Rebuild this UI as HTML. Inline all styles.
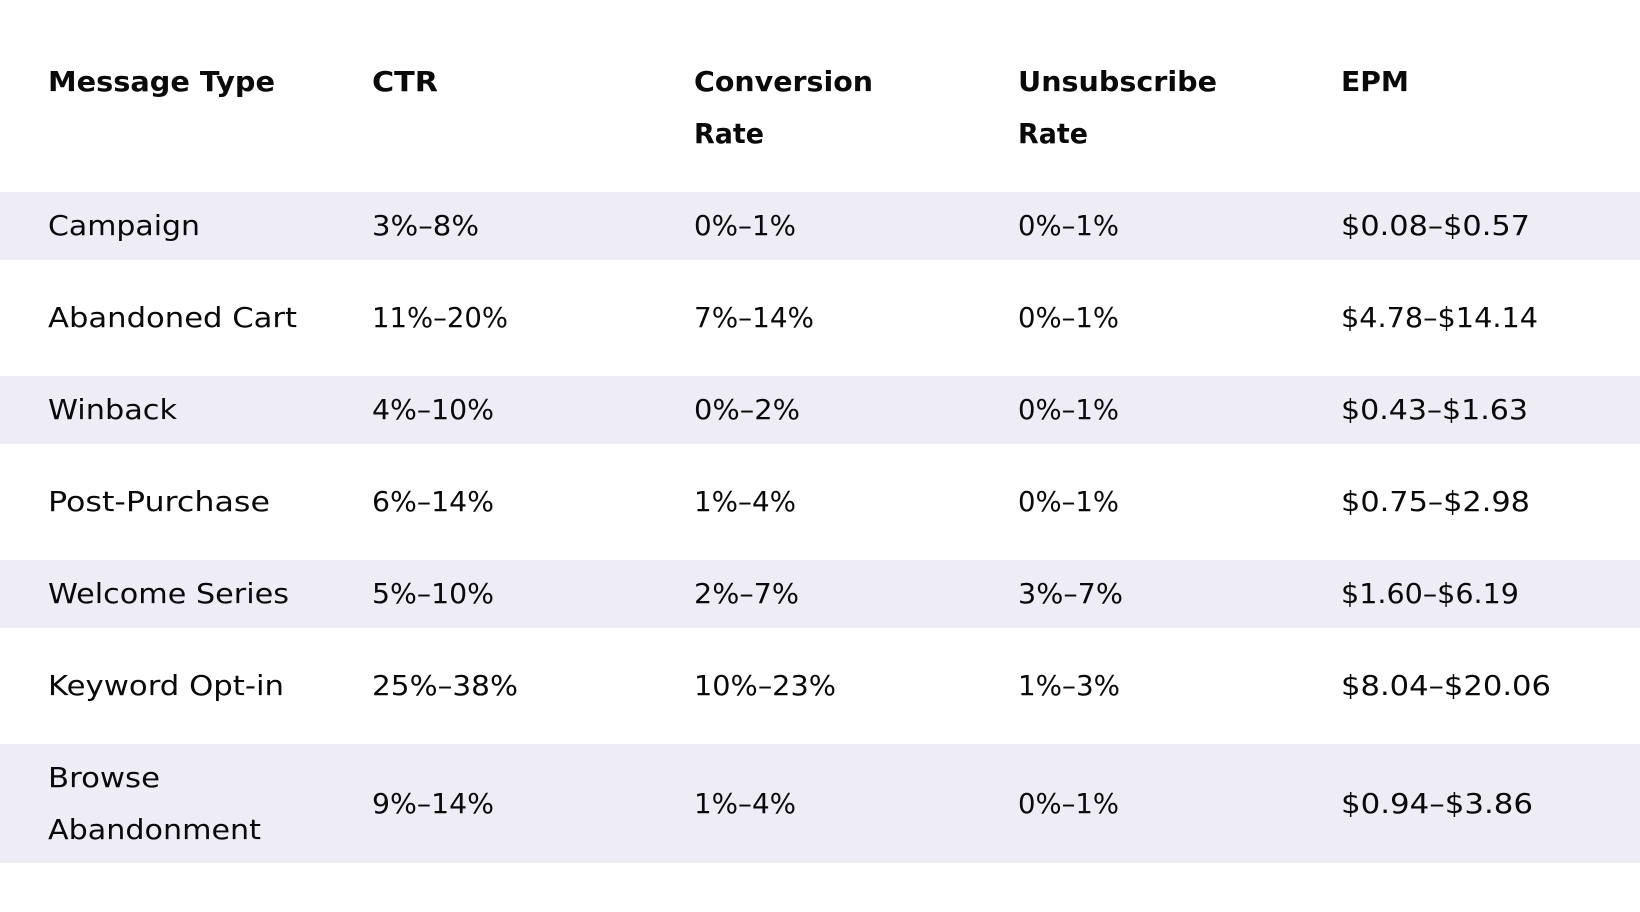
<!DOCTYPE html>
<html>
<head>
<meta charset="utf-8">
<style>
  html, body { margin:0; padding:0; background:#ffffff; }
  body { width:1640px; height:912px; position:relative; overflow:hidden;
         font-family:"DejaVu Sans","Liberation Sans",sans-serif; color:#0a0a0a; }
  .band { position:absolute; left:0; width:1640px; background:#eeedf5; }
  .c { position:absolute; font-size:28px; line-height:52px; white-space:nowrap; }
  .h { font-weight:bold; }
  .t { display:inline-block; transform-origin:0 50%; white-space:nowrap; }
</style>
</head>
<body>
<div class="band" style="top:192px;height:68px"></div>
<div class="band" style="top:376px;height:68px"></div>
<div class="band" style="top:560px;height:68px"></div>
<div class="band" style="top:744px;height:119px"></div>

<!-- Header -->
<div class="c h" style="left:48px;top:56px"><span class="t">Message Type</span></div>
<div class="c h" style="left:372px;top:56px"><span class="t">CTR</span></div>
<div class="c h" style="left:694px;top:56px"><span class="t">Conversion</span><br><span class="t">Rate</span></div>
<div class="c h" style="left:1018px;top:56px"><span class="t">Unsubscribe</span><br><span class="t">Rate</span></div>
<div class="c h" style="left:1341px;top:56px"><span class="t">EPM</span></div>

<!-- Row 0 -->
<div class="c" style="left:48px;top:199.6px"><span class="t">Campaign</span></div>
<div class="c" style="left:372px;top:199.6px"><span class="t">3%–8%</span></div>
<div class="c" style="left:694px;top:199.6px"><span class="t">0%–1%</span></div>
<div class="c" style="left:1018px;top:199.6px"><span class="t">0%–1%</span></div>
<div class="c" style="left:1341px;top:199.6px"><span class="t">$0.08–$0.57</span></div>

<!-- Row 1 -->
<div class="c" style="left:48px;top:291.6px"><span class="t">Abandoned Cart</span></div>
<div class="c" style="left:372px;top:291.6px"><span class="t">11%–20%</span></div>
<div class="c" style="left:694px;top:291.6px"><span class="t">7%–14%</span></div>
<div class="c" style="left:1018px;top:291.6px"><span class="t">0%–1%</span></div>
<div class="c" style="left:1341px;top:291.6px"><span class="t">$4.78–$14.14</span></div>

<!-- Row 2 -->
<div class="c" style="left:48px;top:383.6px"><span class="t">Winback</span></div>
<div class="c" style="left:372px;top:383.6px"><span class="t">4%–10%</span></div>
<div class="c" style="left:694px;top:383.6px"><span class="t">0%–2%</span></div>
<div class="c" style="left:1018px;top:383.6px"><span class="t">0%–1%</span></div>
<div class="c" style="left:1341px;top:383.6px"><span class="t">$0.43–$1.63</span></div>

<!-- Row 3 -->
<div class="c" style="left:48px;top:475.6px"><span class="t">Post-Purchase</span></div>
<div class="c" style="left:372px;top:475.6px"><span class="t">6%–14%</span></div>
<div class="c" style="left:694px;top:475.6px"><span class="t">1%–4%</span></div>
<div class="c" style="left:1018px;top:475.6px"><span class="t">0%–1%</span></div>
<div class="c" style="left:1341px;top:475.6px"><span class="t">$0.75–$2.98</span></div>

<!-- Row 4 -->
<div class="c" style="left:48px;top:567.6px"><span class="t">Welcome Series</span></div>
<div class="c" style="left:372px;top:567.6px"><span class="t">5%–10%</span></div>
<div class="c" style="left:694px;top:567.6px"><span class="t">2%–7%</span></div>
<div class="c" style="left:1018px;top:567.6px"><span class="t">3%–7%</span></div>
<div class="c" style="left:1341px;top:567.6px"><span class="t">$1.60–$6.19</span></div>

<!-- Row 5 -->
<div class="c" style="left:48px;top:659.6px"><span class="t">Keyword Opt-in</span></div>
<div class="c" style="left:372px;top:659.6px"><span class="t">25%–38%</span></div>
<div class="c" style="left:694px;top:659.6px"><span class="t">10%–23%</span></div>
<div class="c" style="left:1018px;top:659.6px"><span class="t">1%–3%</span></div>
<div class="c" style="left:1341px;top:659.6px"><span class="t">$8.04–$20.06</span></div>

<!-- Row 6 -->
<div class="c" style="left:48px;top:751.8px"><span class="t">Browse</span><br><span class="t">Abandonment</span></div>
<div class="c" style="left:372px;top:777.8px"><span class="t">9%–14%</span></div>
<div class="c" style="left:694px;top:777.8px"><span class="t">1%–4%</span></div>
<div class="c" style="left:1018px;top:777.8px"><span class="t">0%–1%</span></div>
<div class="c" style="left:1341px;top:777.8px"><span class="t">$0.94–$3.86</span></div>

<script>
(function(){
  var W = [
    227, 66, 179, 70, 199, 70, 68,
    152, 107, 102, 101, 189,
    249, 136, 120, 101, 197,
    129, 122, 106, 101, 187,
    222, 122, 102, 101, 189,
    241, 122, 105, 105, 178,
    236, 146, 142, 102, 210,
    112, 213, 122, 102, 101, 192
  ];
  var els = document.querySelectorAll('.t');
  for (var i = 0; i < els.length && i < W.length; i++) {
    var w = els[i].getBoundingClientRect().width;
    if (w > 0) {
      els[i].style.transform = 'scaleX(' + (W[i] / w) + ')';
    }
  }
})();
</script>
</body>
</html>
